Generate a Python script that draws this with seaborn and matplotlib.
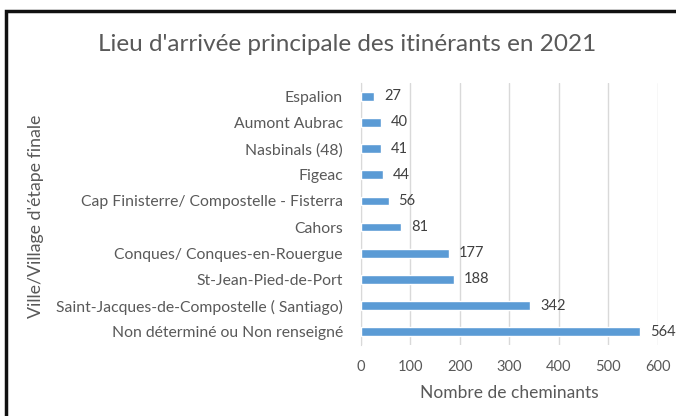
import matplotlib
matplotlib.use("Agg")
import matplotlib.pyplot as plt
import seaborn as sns
import pandas as pd
from matplotlib.patches import Rectangle

# Data
lieux = [
    "Espalion",
    "Aumont Aubrac",
    "Nasbinals (48)",
    "Figeac",
    "Cap Finisterre/ Compostelle - Fisterra",
    "Cahors",
    "Conques/ Conques-en-Rouergue",
    "St-Jean-Pied-de-Port",
    "Saint-Jacques-de-Compostelle ( Santiago)",
    "Non déterminé ou Non renseigné",
]
cheminants = [27, 40, 41, 44, 56, 81, 177, 188, 342, 564]
x_ticks = [0, 100, 200, 300, 400, 500, 600]

df = pd.DataFrame({"lieu": lieux, "n": cheminants})

sns.set_style("white")
plt.rcParams["font.family"] = ["Lato", "DejaVu Sans"]

text_col = "#595959"
fig = plt.figure(figsize=(6.76, 4.16), dpi=100)
ax = fig.add_axes([0.534, 0.171, 0.439, 0.629])

sns.barplot(data=df, x="n", y="lieu", color="#5B9BD5", width=0.33,
            saturation=1, ax=ax, zorder=3)

for i, v in enumerate(cheminants):
    ax.text(v + 20, i, str(v), va="center", ha="left", fontsize=10.5,
            color="#404040", clip_on=False)

ax.set_xlim(0, 600)
ax.set_xticks(x_ticks)
ax.set_ylim(9.5, -0.5)
ax.grid(axis="x", color="#D9D9D9", linewidth=1, zorder=0)
for s in ["top", "right", "bottom"]:
    ax.spines[s].set_visible(False)
ax.spines["left"].set_color("#D9D9D9")

ax.tick_params(axis="y", length=0, pad=13, labelsize=11.3, labelcolor=text_col)
ax.tick_params(axis="x", length=0, pad=11, labelsize=10.5, labelcolor=text_col)

ax.set_xlabel("Nombre de cheminants", fontsize=12.5, color=text_col, labelpad=8)
ax.set_ylabel("")
fig.text(0.053, 0.481, "Ville/Village d'étape finale", rotation=90,
         ha="center", va="center", fontsize=12.8, color=text_col)

fig.text(0.513, 0.892, "Lieu d'arrivée principale des itinérants en 2021",
         ha="center", va="center", fontsize=17.5, color=text_col)

# black frame around the chart (runs off the right and bottom edges)
fig.patches.append(Rectangle((6 / 676, -0.05), 1.1, 1 - 11 / 416 + 0.05,
                             transform=fig.transFigure, fill=False,
                             edgecolor="#111111", linewidth=2.5))

fig.savefig("out.png", dpi=100)
